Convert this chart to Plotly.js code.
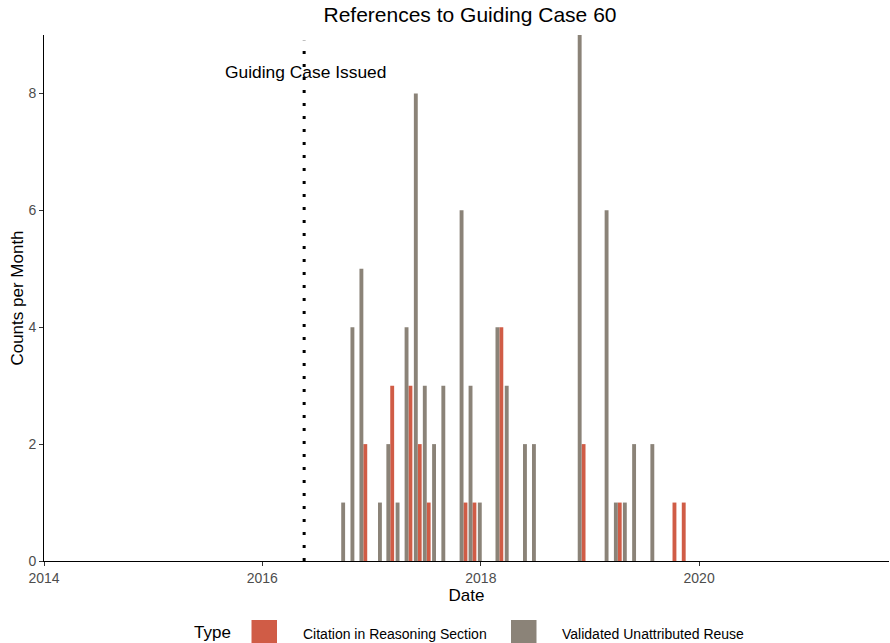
<!DOCTYPE html>
<html>
<head>
<meta charset="utf-8">
<script src="https://cdn.plot.ly/plotly-3.0.1.min.js"></script>
<style>
  html, body { margin: 0; padding: 0; background: #fff; }
  #chart { width: 890px; height: 643px; }
</style>
</head>
<body>
<div id="chart"></div>
<script>
// ---- Data ----
const monthsReuse = ['2016-10-01','2016-11-01','2016-12-01','2017-02-01','2017-03-01','2017-04-01','2017-05-01','2017-06-01','2017-07-01','2017-08-01','2017-09-01','2017-11-01','2017-12-01','2018-01-01','2018-03-01','2018-04-01','2018-06-01','2018-07-01','2018-12-01','2019-03-01','2019-04-01','2019-05-01','2019-06-01','2019-08-01'];
const countsReuse = [1,4,5,1,2,1,4,8,3,2,3,6,3,1,4,3,2,2,9,6,1,1,2,2];

const monthsCitation = ['2016-12-01','2017-03-01','2017-05-01','2017-06-01','2017-07-01','2017-11-01','2017-12-01','2018-03-01','2018-12-01','2019-04-01','2019-10-01','2019-11-01'];
const countsCitation = [2,3,3,2,1,1,1,4,2,1,1,1];

const issuedDate = '2016-05-20';
const issuedLabel = 'Guiding Case Issued';
const seriesNames = ['Citation in Reasoning Section', 'Validated Unattributed Reuse'];
const legendTitle = 'Type';
const yTicks = [0, 2, 4, 6, 8];
const xTicks = ['2014-01-01', '2016-01-01', '2018-01-01', '2020-01-01'];
const xTickLabels = ['2014', '2016', '2018', '2020'];

// ---- Styling ----
const DAY = 86400000;
const barW = 13 * DAY;
const shift = 3 * DAY;
const RED = '#D05C46';
const GREY = '#8B8378';
const COLORS = [RED, GREY];
const FONT = 'Liberation Sans, Arial, sans-serif';

// plot area in pixels (for converting legend pixel positions to paper coords)
const W = 890, H = 643;
const M = { l: 44, r: 1, t: 35, b: 82 };
const PW = W - M.l - M.r, PH = H - M.t - M.b;
const px = v => (v - M.l) / PW;
const py = v => (H - M.b - v) / PH;

const traces = [
  {
    type: 'bar', name: seriesNames[0],
    x: monthsCitation, y: countsCitation,
    width: barW, offset: shift,
    marker: { color: COLORS[0], line: { width: 0 } },
    showlegend: false
  },
  {
    type: 'bar', name: seriesNames[1],
    x: monthsReuse, y: countsReuse,
    width: barW, offset: shift - barW,
    marker: { color: COLORS[1], line: { width: 0 } },
    showlegend: false
  }
];

// custom legend (keys drawn as squares like the reference)
const legendKeys = [
  { x0: 251.5, x1: 277, textX: 301 },
  { x0: 511, x1: 536.5, textX: 560 }
];
const legendShapes = legendKeys.map((k, i) => ({
  type: 'rect', xref: 'paper', yref: 'paper',
  x0: px(k.x0), x1: px(k.x1), y0: py(620), y1: py(645.5),
  fillcolor: COLORS[i], line: { width: 0 }, layer: 'above'
}));
const legendTexts = legendKeys.map((k, i) => ({
  xref: 'paper', yref: 'paper', x: px(k.textX), y: py(633.5),
  text: seriesNames[i], showarrow: false,
  xanchor: 'left', yanchor: 'middle',
  font: { size: 14, color: '#000', family: FONT }
}));

const layout = {
  width: W, height: H,
  margin: { l: M.l, r: M.r, t: M.t, b: M.b, autoexpand: false },
  paper_bgcolor: '#fff', plot_bgcolor: '#fff',
  font: { family: FONT, color: '#000' },
  barmode: 'overlay',
  showlegend: false,
  title: {
    text: 'References to Guiding Case 60',
    font: { size: 21, color: '#000', family: FONT },
    x: px(470), xref: 'paper', xanchor: 'center',
    y: 1 - 15 / H, yref: 'container', yanchor: 'middle'
  },
  xaxis: {
    type: 'date',
    range: ['2014-01-01', '2021-09-27'],
    tickvals: xTicks, ticktext: xTickLabels,
    ticks: 'outside', ticklen: 4, tickcolor: '#333', tickwidth: 1,
    tickfont: { size: 14, color: '#4D4D4D', family: FONT },
    showline: true, linecolor: '#000', linewidth: 1,
    showgrid: false, zeroline: false,
    title: { text: 'Date', font: { size: 17, color: '#000', family: FONT }, standoff: 4 },
    fixedrange: true
  },
  yaxis: {
    range: [0, 9],
    tickvals: yTicks,
    ticks: 'outside', ticklen: 4, tickcolor: '#333', tickwidth: 1,
    tickfont: { size: 14, color: '#4D4D4D', family: FONT },
    showline: true, linecolor: '#000', linewidth: 1,
    showgrid: false, zeroline: false,
    title: { text: 'Counts per Month', font: { size: 17, color: '#000', family: FONT }, standoff: 0 },
    fixedrange: true
  },
  shapes: [
    {
      type: 'line', xref: 'x', yref: 'y',
      x0: issuedDate, x1: issuedDate, y0: 0, y1: 8.9,
      line: { color: '#000', width: 3, dash: '3px,10px' }
    }
  ].concat(legendShapes),
  annotations: [
    {
      x: issuedDate, xref: 'x', y: 8.37, yref: 'y',
      text: issuedLabel, showarrow: false, xshift: 1,
      font: { size: 17.4, color: '#000', family: FONT },
      xanchor: 'center', yanchor: 'middle'
    },
    {
      xref: 'paper', yref: 'paper', x: px(192), y: py(632),
      text: legendTitle, showarrow: false,
      xanchor: 'left', yanchor: 'middle',
      font: { size: 17, color: '#000', family: FONT }
    }
  ].concat(legendTexts)
};

Plotly.newPlot('chart', traces, layout, { displayModeBar: false, staticPlot: true });
</script>
</body>
</html>
